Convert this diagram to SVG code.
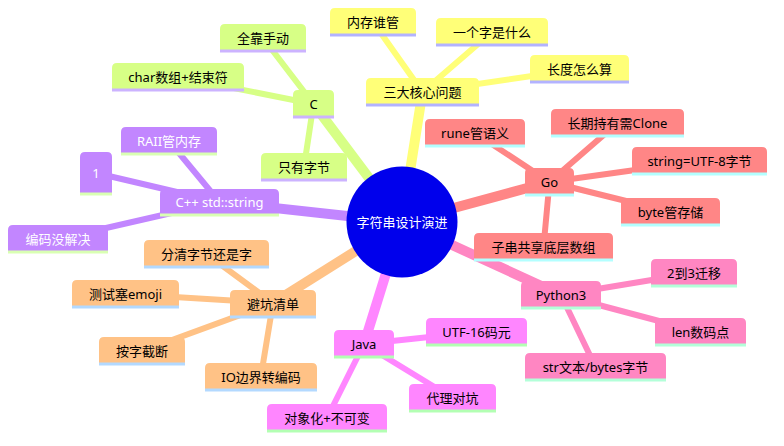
<svg xmlns="http://www.w3.org/2000/svg" width="784" height="446" viewBox="0 0 784 446">
<style>
text{font-family:"Noto Sans","Noto Sans CJK SC",sans-serif;font-size:13px;text-anchor:middle;fill:#000}
.e0{stroke-width:10;stroke-linecap:round;fill:none}
.e1{stroke-width:6;stroke-linecap:round;fill:none}
.bl{stroke-width:3}
.s0{fill:#FFFF78}.s0l{stroke:#FFFF78}.s0b{stroke:#B3B3FF}
.s1{fill:#FF8686}.s1l{stroke:#FF8686}.s1b{stroke:#B3FFFF}
.s2{fill:#FF86C2}.s2l{stroke:#FF86C2}.s2b{stroke:#B3FFD9}
.s3{fill:#FF86FF}.s3l{stroke:#FF86FF}.s3b{stroke:#B3FFB3}
.s4{fill:#FFC286}.s4l{stroke:#FFC286}.s4b{stroke:#B3D9FF}
.s5{fill:#C286FF}.s5l{stroke:#C286FF}.s5b{stroke:#D9FFB3}
.s6{fill:#D7FF86}.s6l{stroke:#D7FF86}.s6b{stroke:#CCB3FF}
.w{fill:#fff}
</style>
<rect width="784" height="446" fill="#fff"/>
<g id="connectors">
<line class="e0 s0l" x1="402" y1="222" x2="422.5" y2="92"/>
<line class="e1 s0l" x1="422.5" y1="92" x2="373" y2="22"/>
<line class="e1 s0l" x1="422.5" y1="92" x2="492" y2="32"/>
<line class="e1 s0l" x1="422.5" y1="92" x2="579.5" y2="69"/>
<line class="e0 s1l" x1="402" y1="222" x2="549.5" y2="182"/>
<line class="e1 s1l" x1="549.5" y1="182" x2="475" y2="133"/>
<line class="e1 s1l" x1="549.5" y1="182" x2="617.5" y2="123"/>
<line class="e1 s1l" x1="549.5" y1="182" x2="699.5" y2="161"/>
<line class="e1 s1l" x1="549.5" y1="182" x2="670.5" y2="212"/>
<line class="e1 s1l" x1="549.5" y1="182" x2="543.5" y2="247"/>
<line class="e0 s2l" x1="402" y1="222" x2="561" y2="295"/>
<line class="e1 s2l" x1="561" y1="295" x2="694" y2="273"/>
<line class="e1 s2l" x1="561" y1="295" x2="700.5" y2="332"/>
<line class="e1 s2l" x1="561" y1="295" x2="595.5" y2="367"/>
<line class="e0 s3l" x1="402" y1="222" x2="364" y2="344"/>
<line class="e1 s3l" x1="364" y1="344" x2="476.5" y2="332"/>
<line class="e1 s3l" x1="364" y1="344" x2="452.5" y2="398"/>
<line class="e1 s3l" x1="364" y1="344" x2="327" y2="418"/>
<line class="e0 s4l" x1="402" y1="222" x2="273" y2="303"/>
<line class="e1 s4l" x1="273" y1="303" x2="206.5" y2="254"/>
<line class="e1 s4l" x1="273" y1="303" x2="125.5" y2="294"/>
<line class="e1 s4l" x1="273" y1="303" x2="142" y2="351"/>
<line class="e1 s4l" x1="273" y1="303" x2="261" y2="376"/>
<line class="e0 s5l" x1="402" y1="222" x2="219.5" y2="202"/>
<line class="e1 s5l" x1="219.5" y1="202" x2="169" y2="141"/>
<line class="e1 s5l" x1="219.5" y1="202" x2="96" y2="173"/>
<line class="e1 s5l" x1="219.5" y1="202" x2="58" y2="239"/>
<line class="e0 s6l" x1="402" y1="222" x2="313.5" y2="104"/>
<line class="e1 s6l" x1="313.5" y1="104" x2="263" y2="38"/>
<line class="e1 s6l" x1="313.5" y1="104" x2="178" y2="77"/>
<line class="e1 s6l" x1="313.5" y1="104" x2="304" y2="167"/>
</g>
<g id="n-sanda"><path class="s0" d="M366,105V83q0,-5 5,-5H474q5,0 5,5V105Z"/><line class="bl s0b" x1="366" y1="105" x2="479" y2="105"/><text x="422.5" y="96.5">三大核心问题</text></g>
<g id="n-neicun"><path class="s0" d="M330,35V13q0,-5 5,-5H411q5,0 5,5V35Z"/><line class="bl s0b" x1="330" y1="35" x2="416" y2="35"/><text x="373" y="26.5">内存谁管</text></g>
<g id="n-yige"><path class="s0" d="M436,45V23q0,-5 5,-5H543q5,0 5,5V45Z"/><line class="bl s0b" x1="436" y1="45" x2="548" y2="45"/><text x="492" y="36.5">一个字是什么</text></g>
<g id="n-changdu"><path class="s0" d="M530,82V60q0,-5 5,-5H624q5,0 5,5V82Z"/><line class="bl s0b" x1="530" y1="82" x2="629" y2="82"/><text x="579.5" y="73.5">长度怎么算</text></g>
<g id="n-go"><path class="s1" d="M525,195V173q0,-5 5,-5H569q5,0 5,5V195Z"/><line class="bl s1b" x1="525" y1="195" x2="574" y2="195"/><text x="549.5" y="186.5">Go</text></g>
<g id="n-rune"><path class="s1" d="M425,146V124q0,-5 5,-5H520q5,0 5,5V146Z"/><line class="bl s1b" x1="425" y1="146" x2="525" y2="146"/><text x="475" y="137.5">rune管语义</text></g>
<g id="n-clone"><path class="s1" d="M551,136V114q0,-5 5,-5H679q5,0 5,5V136Z"/><line class="bl s1b" x1="551" y1="136" x2="684" y2="136"/><text x="617.5" y="127.5">长期持有需Clone</text></g>
<g id="n-utf8"><path class="s1" d="M632,174V152q0,-5 5,-5H762q5,0 5,5V174Z"/><line class="bl s1b" x1="632" y1="174" x2="767" y2="174"/><text x="699.5" y="165.5">string=UTF-8字节</text></g>
<g id="n-byte"><path class="s1" d="M621,225V203q0,-5 5,-5H715q5,0 5,5V225Z"/><line class="bl s1b" x1="621" y1="225" x2="720" y2="225"/><text x="670.5" y="216.5">byte管存储</text></g>
<g id="n-zichuan"><path class="s1" d="M474,260V238q0,-5 5,-5H608q5,0 5,5V260Z"/><line class="bl s1b" x1="474" y1="260" x2="613" y2="260"/><text x="543.5" y="251.5">子串共享底层数组</text></g>
<g id="n-python"><path class="s2" d="M521,308V286q0,-5 5,-5H596q5,0 5,5V308Z"/><line class="bl s2b" x1="521" y1="308" x2="601" y2="308"/><text x="561" y="299.5">Python3</text></g>
<g id="n-2to3"><path class="s2" d="M651,286V264q0,-5 5,-5H732q5,0 5,5V286Z"/><line class="bl s2b" x1="651" y1="286" x2="737" y2="286"/><text x="694" y="277.5">2到3迁移</text></g>
<g id="n-len"><path class="s2" d="M655,345V323q0,-5 5,-5H741q5,0 5,5V345Z"/><line class="bl s2b" x1="655" y1="345" x2="746" y2="345"/><text x="700.5" y="336.5">len数码点</text></g>
<g id="n-str"><path class="s2" d="M525,380V358q0,-5 5,-5H661q5,0 5,5V380Z"/><line class="bl s2b" x1="525" y1="380" x2="666" y2="380"/><text x="595.5" y="371.5">str文本/bytes字节</text></g>
<g id="n-java"><path class="s3" d="M334,357V335q0,-5 5,-5H389q5,0 5,5V357Z"/><line class="bl s3b" x1="334" y1="357" x2="394" y2="357"/><text x="364" y="348.5">Java</text></g>
<g id="n-utf16"><path class="s3" d="M426,345V323q0,-5 5,-5H522q5,0 5,5V345Z"/><line class="bl s3b" x1="426" y1="345" x2="527" y2="345"/><text x="476.5" y="336.5">UTF-16码元</text></g>
<g id="n-daili"><path class="s3" d="M409,411V389q0,-5 5,-5H491q5,0 5,5V411Z"/><line class="bl s3b" x1="409" y1="411" x2="496" y2="411"/><text x="452.5" y="402.5">代理对坑</text></g>
<g id="n-duixiang"><path class="s3" d="M267,431V409q0,-5 5,-5H382q5,0 5,5V431Z"/><line class="bl s3b" x1="267" y1="431" x2="387" y2="431"/><text x="327" y="422.5">对象化+不可变</text></g>
<g id="n-bikeng"><path class="s4" d="M230,317V295q0,-5 5,-5H311q5,0 5,5V317Z"/><line class="bl s4b" x1="230" y1="317" x2="316" y2="317"/><text x="273" y="308.5">避坑清单</text></g>
<g id="n-fenqing"><path class="s4" d="M144,267V245q0,-5 5,-5H264q5,0 5,5V267Z"/><line class="bl s4b" x1="144" y1="267" x2="269" y2="267"/><text x="206.5" y="258.5">分清字节还是字</text></g>
<g id="n-emoji"><path class="s4" d="M72,307V285q0,-5 5,-5H174q5,0 5,5V307Z"/><line class="bl s4b" x1="72" y1="307" x2="179" y2="307"/><text x="125.5" y="298.5">测试塞emoji</text></g>
<g id="n-jieduan"><path class="s4" d="M99,364V342q0,-5 5,-5H180q5,0 5,5V364Z"/><line class="bl s4b" x1="99" y1="364" x2="185" y2="364"/><text x="142" y="355.5">按字截断</text></g>
<g id="n-io"><path class="s4" d="M205,390V368q0,-5 5,-5H312q5,0 5,5V390Z"/><line class="bl s4b" x1="205" y1="390" x2="317" y2="390"/><text x="261" y="381.5">IO边界转编码</text></g>
<g id="n-cpp"><path class="s5" d="M160,215V194q0,-5 5,-5H274q5,0 5,5V215Z"/><line class="bl s5b" x1="160" y1="215" x2="279" y2="215"/><text class="w" x="219.5" y="206.5">C++ std::string</text></g>
<g id="n-raii"><path class="s5" d="M121,154V132q0,-5 5,-5H212q5,0 5,5V154Z"/><line class="bl s5b" x1="121" y1="154" x2="217" y2="154"/><text class="w" x="169" y="145.5">RAII管内存</text></g>
<g id="n-one"><path class="s5" d="M80,194V157q0,-5 5,-5H107q5,0 5,5V194Z"/><line class="bl s5b" x1="80" y1="194" x2="112" y2="194"/><text class="w" x="96" y="178">1</text></g>
<g id="n-bianma"><path class="s5" d="M8,252V230q0,-5 5,-5H103q5,0 5,5V252Z"/><line class="bl s5b" x1="8" y1="252" x2="108" y2="252"/><text class="w" x="58" y="243.5">编码没解决</text></g>
<g id="n-c"><path class="s6" d="M293,117V95q0,-5 5,-5H329q5,0 5,5V117Z"/><line class="bl s6b" x1="293" y1="117" x2="334" y2="117"/><text x="313.5" y="108.5">C</text></g>
<g id="n-shoudong"><path class="s6" d="M220,51V29q0,-5 5,-5H301q5,0 5,5V51Z"/><line class="bl s6b" x1="220" y1="51" x2="306" y2="51"/><text x="263" y="42.5">全靠手动</text></g>
<g id="n-char"><path class="s6" d="M112,90V68q0,-5 5,-5H239q5,0 5,5V90Z"/><line class="bl s6b" x1="112" y1="90" x2="244" y2="90"/><text x="178" y="81.5">char数组+结束符</text></g>
<g id="n-zijie"><path class="s6" d="M261,180V158q0,-5 5,-5H342q5,0 5,5V180Z"/><line class="bl s6b" x1="261" y1="180" x2="347" y2="180"/><text x="304" y="171.5">只有字节</text></g>
<g id="root"><circle cx="402" cy="222" r="55.5" fill="#0000EC"/><text class="w" x="402" y="226.5">字符串设计演进</text></g>
</svg>
